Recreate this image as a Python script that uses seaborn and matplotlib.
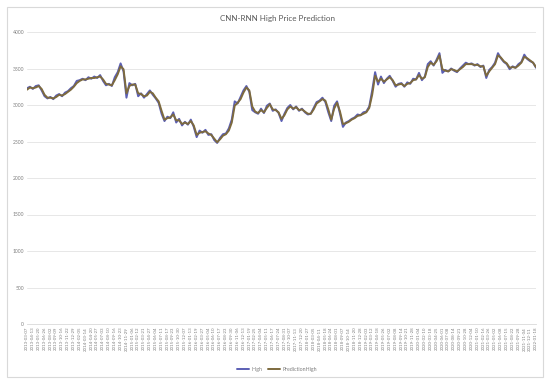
import matplotlib
matplotlib.use("Agg")
import matplotlib.pyplot as plt
from matplotlib.patches import Rectangle
import pandas as pd
import seaborn as sns

# values
high = [
    3230, 3250, 3220, 3260, 3270, 3200, 3120, 3090, 3110, 3080,
    3130, 3150, 3120, 3170, 3190, 3230, 3260, 3330, 3340, 3360,
    3340, 3380, 3360, 3390, 3370, 3410, 3330, 3270, 3290, 3260,
    3380, 3450, 3570, 3460, 3100, 3300, 3270, 3290, 3120, 3160,
    3100, 3150, 3200, 3140, 3090, 3030, 2880, 2780, 2840, 2820,
    2900, 2760, 2810, 2720, 2770, 2730, 2800, 2700, 2560, 2650,
    2620, 2660, 2590, 2600, 2520, 2480, 2550, 2600, 2610, 2680,
    2800, 3050, 3020, 3110, 3200, 3260, 3180, 2930, 2900, 2880,
    2950, 2890, 2990, 3020, 2920, 2940, 2890, 2780, 2880, 2960,
    3000, 2940, 2980, 2920, 2950, 2900, 2870, 2880, 2960, 3040,
    3060, 3100, 3040, 2900, 2780, 2990, 3050, 2880, 2700, 2760,
    2780, 2810, 2830, 2870, 2860, 2900, 2910, 2980, 3200, 3450,
    3280, 3390, 3300, 3360, 3400, 3330, 3250, 3290, 3300, 3250,
    3310, 3290, 3360, 3350, 3440, 3340, 3390, 3560, 3600, 3540,
    3620, 3710, 3440, 3480, 3460, 3500, 3470, 3450, 3500, 3540,
    3580, 3560, 3570, 3540, 3560, 3520, 3540, 3370, 3480, 3520,
    3580, 3710, 3640, 3590, 3560, 3490, 3530, 3510, 3560, 3590,
    3690, 3630, 3600, 3580, 3510,
]
prediction_high = [
    3210, 3240, 3230, 3240, 3260, 3220, 3140, 3100, 3100, 3090,
    3110, 3140, 3130, 3150, 3180, 3210, 3250, 3300, 3330, 3350,
    3350, 3360, 3370, 3370, 3380, 3390, 3350, 3290, 3280, 3270,
    3340, 3420, 3530, 3490, 3160, 3260, 3280, 3280, 3160, 3150,
    3120, 3130, 3180, 3160, 3100, 3050, 2920, 2800, 2820, 2830,
    2870, 2790, 2790, 2740, 2760, 2740, 2780, 2720, 2590, 2620,
    2630, 2640, 2610, 2590, 2540, 2490, 2530, 2580, 2600, 2650,
    2760, 2990, 3030, 3080, 3170, 3240, 3200, 2980, 2910, 2890,
    2930, 2900, 2960, 3010, 2940, 2930, 2900, 2810, 2860, 2940,
    2980, 2950, 2970, 2930, 2940, 2910, 2880, 2880, 2940, 3020,
    3050, 3080, 3060, 2940, 2800, 2950, 3030, 2910, 2740, 2750,
    2770, 2800, 2820, 2850, 2860, 2880, 2900, 2960, 3140, 3400,
    3320, 3360, 3320, 3350, 3380, 3340, 3270, 3280, 3290, 3260,
    3290, 3300, 3340, 3350, 3410, 3360, 3380, 3520, 3580, 3550,
    3600, 3680, 3490, 3470, 3460, 3490, 3480, 3460, 3490, 3520,
    3560, 3560, 3560, 3550, 3550, 3530, 3530, 3400, 3460, 3510,
    3560, 3680, 3650, 3600, 3570, 3510, 3520, 3510, 3540, 3580,
    3660, 3640, 3610, 3580, 3520,
]
dates = pd.date_range("2013-03-07", "2022-01-18", periods=len(high)).strftime("%Y-%m-%d")
series_names = ["High", "PredictionHigh"]
colors = ["#5b5fb4", "#7d6a3e"]
y_ticks = [0, 500, 1000, 1500, 2000, 2500, 3000, 3500, 4000]

df = pd.DataFrame({"idx": range(len(high)), "date": dates,
                   "High": high, "PredictionHigh": prediction_high})
long_df = df.melt(id_vars=["idx", "date"], value_vars=series_names,
                  var_name="series", value_name="price")

sns.set_theme(style="whitegrid")
plt.rcParams["font.family"] = ["Lato", "DejaVu Sans"]

W, H = 550, 387
fig = plt.figure(figsize=(W / 100, H / 100), dpi=100)
ax = fig.add_axes([27 / W, 1 - 324 / H, 509 / W, 292 / H])

sns.lineplot(data=long_df, x="idx", y="price", hue="series",
             palette=dict(zip(series_names, colors)), linewidth=1.4, ax=ax)

ax.set_xlim(0, len(high) - 1)
ax.set_ylim(0, 4000)
ax.set_yticks(y_ticks)
ax.set_yticklabels([str(t) for t in y_ticks], fontsize=3.6, color="#7f7f7f")
ax.set_xticks(df["idx"][::2])
ax.set_xticklabels(df["date"][::2], rotation=90, fontsize=3.2, color="#7f7f7f")
ax.tick_params(axis="both", length=0, pad=2)
ax.grid(axis="y", color="#e3e3e3", linewidth=0.6)
ax.grid(axis="x", visible=False)
for side in ["top", "right", "left"]:
    ax.spines[side].set_visible(False)
ax.spines["bottom"].set_color("#d9d9d9")
ax.spines["bottom"].set_linewidth(0.6)
ax.set_xlabel("")
ax.set_ylabel("")

handles, labels = ax.get_legend_handles_labels()
ax.legend_.remove()
fig.legend(handles, labels, loc="center", bbox_to_anchor=(277 / W, 1 - 369 / H),
           ncol=2, frameon=False, fontsize=3.8, handlelength=2.2,
           columnspacing=1.2, handletextpad=0.4, labelcolor="#7f7f7f")

fig.text(277 / W, 1 - 18 / H, "CNN-RNN High Price Prediction",
         ha="center", va="center", fontsize=5.8, color="#595959")

fig.patches.append(Rectangle((7 / W, 1 - 377 / H), 536 / W, 370 / H,
                             transform=fig.transFigure, fill=False,
                             edgecolor="#d9d9d9", linewidth=0.8))

fig.savefig("out.png", dpi=100, facecolor="white")
